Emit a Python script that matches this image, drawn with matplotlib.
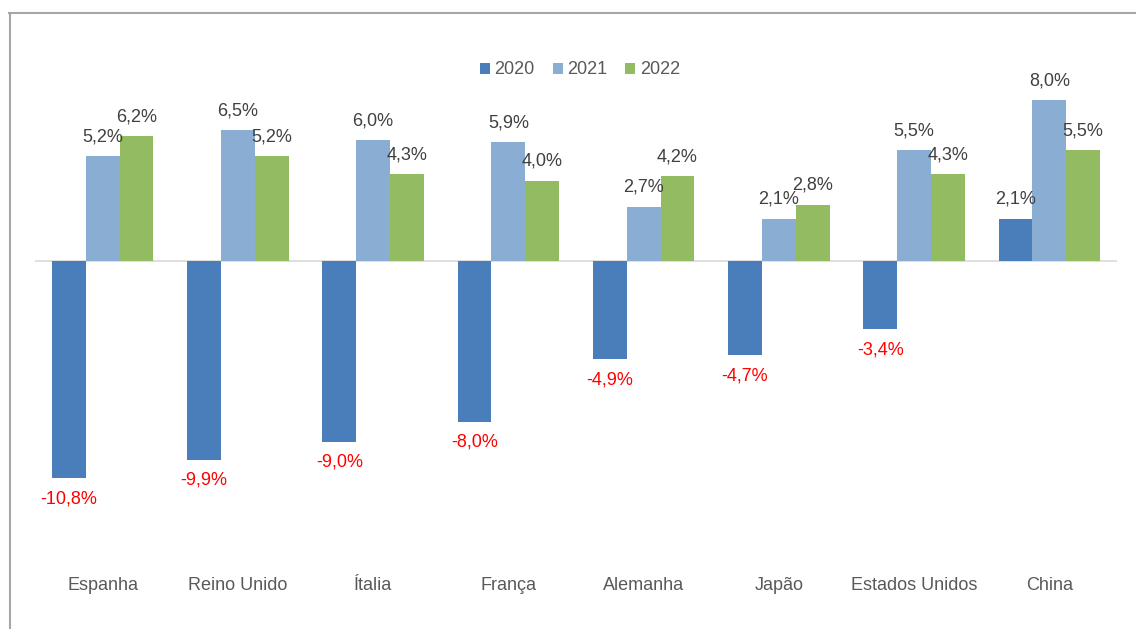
import matplotlib
matplotlib.use("Agg")
import matplotlib.pyplot as plt
import matplotlib.transforms as mtransforms
from matplotlib.lines import Line2D
from matplotlib.patches import Patch
import numpy as np

plt.rcParams['font.family'] = ['Liberation Sans', 'DejaVu Sans']

categories = ["Espanha", "Reino Unido", "Ítalia", "França", "Alemanha", "Japão", "Estados Unidos", "China"]
series_names = ["2020", "2021", "2022"]
v2020 = [-10.8, -9.9, -9.0, -8.0, -4.9, -4.7, -3.4, 2.1]
v2021 = [5.2, 6.5, 6.0, 5.9, 2.7, 2.1, 5.5, 8.0]
v2022 = [6.2, 5.2, 4.3, 4.0, 4.2, 2.8, 4.3, 5.5]
colors = ["#4A7EBB", "#8AADD4", "#93BC62"]

W, H = 1136, 629
fig = plt.figure(figsize=(W / 100, H / 100), dpi=100)
fig.patch.set_facecolor("white")

left, right = 35, 1117
top, bottom = 60, 542
ax = fig.add_axes([left / W, 1 - bottom / H, (right - left) / W, (bottom - top) / H])
ax.set_xlim(-0.5, len(categories) - 0.5)
ax.set_ylim(-14, 10)
ax.axis("off")

x = np.arange(len(categories))
bw = 0.25
for i, (vals, col) in enumerate(zip([v2020, v2021, v2022], colors)):
    xs = x + (i - 1) * bw
    ax.bar(xs, vals, width=bw, color=col, zorder=2)
    for xi, v in zip(xs, vals):
        txt = f"{v:.1f}%".replace(".", ",")
        if v >= 0:
            ax.annotate(txt, (xi, v), xytext=(0, 14), textcoords="offset points",
                        ha="center", va="center", fontsize=13, color="#404040")
        else:
            ax.annotate(txt, (xi, v), xytext=(0, -15), textcoords="offset points",
                        ha="center", va="center", fontsize=13, color="#FF0000")

ax.axhline(0, color="#D9D9D9", lw=1.2, zorder=1)

trans = mtransforms.blended_transform_factory(ax.transData, fig.transFigure)
for xi, c in zip(x, categories):
    ax.text(xi, 1 - 585 / H, c, transform=trans, ha="center", va="center",
            fontsize=13, color="#595959")

handles = [Patch(facecolor=c, edgecolor="none") for c in colors]
fig.legend(handles, series_names, loc="center", bbox_to_anchor=(580 / W, 1 - 70 / H),
           ncol=3, frameon=False, fontsize=13, handlelength=0.55, handleheight=0.55,
           handletextpad=0.25, columnspacing=1.0, labelcolor="#595959")

# outer border (top and left visible)
fig.add_artist(Line2D([9 / W, 1.0], [1 - 13 / H, 1 - 13 / H], transform=fig.transFigure,
                      color="#A6A6A6", lw=1.5))
fig.add_artist(Line2D([10 / W, 10 / W], [1 - 13 / H, 0.0], transform=fig.transFigure,
                      color="#A6A6A6", lw=1.5))

fig.savefig("out.png", dpi=100, facecolor="white")
